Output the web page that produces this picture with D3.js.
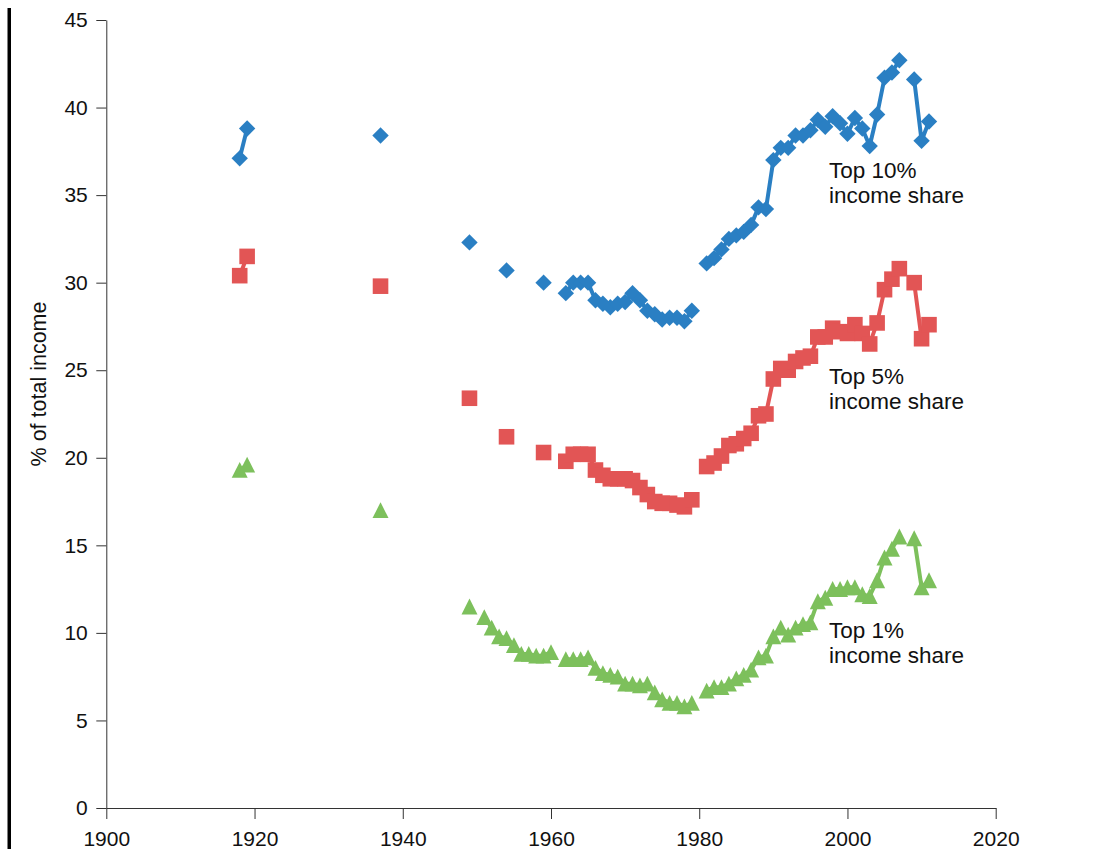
<!DOCTYPE html>
<html>
<head>
<meta charset="utf-8">
<script src="https://cdn.jsdelivr.net/npm/d3@7"></script>
<style>
  html, body { margin: 0; padding: 0; background: #fff; }
  svg { display: block; font-family: "Liberation Sans", Arial, sans-serif; }
</style>
</head>
<body>
<div id="chart"></div>
<script>
// years that have at least one observation
const YEARS = [
  1918, 1919, 1937, 1949,
  1951, 1952, 1953, 1954, 1955, 1956, 1957, 1958, 1959, 1960,
  1962, 1963, 1964, 1965, 1966, 1967, 1968, 1969, 1970, 1971, 1972, 1973, 1974, 1975, 1976, 1977, 1978, 1979,
  1981, 1982, 1983, 1984, 1985, 1986, 1987, 1988, 1989, 1990, 1991, 1992, 1993, 1994, 1995, 1996, 1997, 1998, 1999,
  2000, 2001, 2002, 2003, 2004, 2005, 2006, 2007,
  2009, 2010, 2011
];

const TOP10 = [
  37.1, 38.8, 38.4, 32.3,
  null, null, null, 30.7, null, null, null, null, 30.0, null,
  29.4, 30.0, 30.0, 30.0, 29.0, 28.8, 28.6, 28.8, 28.9, 29.4, 29.0, 28.4, 28.2, 27.9, 28.0, 28.0, 27.8, 28.4,
  31.1, 31.4, 31.9, 32.5, 32.7, 32.9, 33.3, 34.3, 34.2, 37.0, 37.7, 37.7, 38.4, 38.4, 38.7, 39.3, 38.9, 39.5, 39.1,
  38.5, 39.4, 38.8, 37.8, 39.6, 41.7, 42.0, 42.7,
  41.6, 38.1, 39.2
];

const TOP5 = [
  30.4, 31.5, 29.8, 23.4,
  null, null, null, 21.2, null, null, null, null, 20.3, null,
  19.8, 20.2, 20.2, 20.2, 19.3, 19.0, 18.8, 18.8, 18.8, 18.7, 18.3, 17.9, 17.5, 17.4, 17.4, 17.3, 17.2, 17.6,
  19.5, 19.7, 20.1, 20.7, 20.8, 21.1, 21.4, 22.4, 22.5, 24.5, 25.1, 25.0, 25.5, 25.7, 25.8, 26.9, 26.9, 27.4, 27.2,
  27.1, 27.6, 27.1, 26.5, 27.7, 29.6, 30.2, 30.8,
  30.0, 26.8, 27.6
];

const TOP1 = [
  19.3, 19.6, 17.0, 11.5,
  10.9, 10.3, 9.8, 9.7, 9.3, 8.8, 8.8, 8.7, 8.7, 8.9,
  8.5, 8.5, 8.5, 8.6, 8.0, 7.7, 7.6, 7.5, 7.1, 7.1, 7.0, 7.1, 6.6, 6.2, 6.0, 6.0, 5.8, 6.0,
  6.7, 6.9, 6.9, 7.1, 7.4, 7.6, 7.9, 8.6, 8.7, 9.8, 10.3, 9.9, 10.3, 10.5, 10.6, 11.8, 12.0, 12.5, 12.5,
  12.6, 12.6, 12.2, 12.1, 13.0, 14.3, 14.8, 15.5,
  15.4, 12.6, 13.0
];

const X_TICKS = [1900, 1920, 1940, 1960, 1980, 2000, 2020];
const Y_TICKS = [0, 5, 10, 15, 20, 25, 30, 35, 40, 45];

const SERIES = [
  { name: 'top10', values: TOP10, color: '#2a7fc3', shape: 'diamond',  label: ['Top 10%', 'income share'], labelAt: [1997.5, 36.0] },
  { name: 'top5',  values: TOP5,  color: '#e25555', shape: 'square',   label: ['Top 5%', 'income share'],  labelAt: [1997.5, 24.2] },
  { name: 'top1',  values: TOP1,  color: '#7dc05c', shape: 'triangle', label: ['Top 1%', 'income share'],  labelAt: [1997.5, 9.7] },
];

const W = 1093, H = 849;

const svg = d3.select('#chart').append('svg')
  .attr('width', W).attr('height', H);

const x = d3.scaleLinear().domain([1900, 2020]).range([106.3, 995.7]);
const y = d3.scaleLinear().domain([0, 45]).range([808, 20]);

// black rule on the far left
svg.append('rect')
  .attr('x', 7.5).attr('y', 8)
  .attr('width', 3.5).attr('height', H - 8)
  .attr('fill', '#000');

// axes
const xAxis = svg.append('g')
  .attr('transform', `translate(0,${y(0)})`)
  .call(d3.axisBottom(x).tickValues(X_TICKS).tickFormat(d3.format('d'))
    .tickSize(11).tickSizeOuter(0).tickPadding(12));

const yAxis = svg.append('g')
  .attr('transform', `translate(${x(1900)},0)`)
  .call(d3.axisLeft(y).tickValues(Y_TICKS).tickSize(10).tickSizeOuter(0).tickPadding(8.5));

[xAxis, yAxis].forEach(a => {
  a.selectAll('path, line').attr('stroke', '#333').attr('stroke-width', 1);
  a.selectAll('text').attr('font-size', '21px').attr('fill', '#111')
    .attr('font-family', '"Liberation Sans", Arial, sans-serif');
});

svg.append('text')
  .attr('transform', 'rotate(-90)')
  .attr('x', -384).attr('y', 46)
  .attr('text-anchor', 'middle')
  .attr('font-size', '21.5px')
  .attr('fill', '#111')
  .text('% of total income');

// split a series into runs of consecutive years with values
function runs(values) {
  const out = [];
  let cur = [];
  YEARS.forEach((yr, i) => {
    const v = values[i];
    if (v == null) { if (cur.length) out.push(cur); cur = []; return; }
    if (cur.length && yr - cur[cur.length - 1].year !== 1) { out.push(cur); cur = []; }
    cur.push({ year: yr, value: v });
  });
  if (cur.length) out.push(cur);
  return out;
}

const SHAPES = {
  diamond: 'M0,-8.2L8.2,0L0,8.2L-8.2,0Z',
  square: 'M-7.8,-7.8H7.8V7.8H-7.8Z',
  triangle: 'M0,-8L8,7.8L-8,7.8Z',
};

const line = d3.line()
  .x(d => x(d.year))
  .y(d => y(d.value));

SERIES.forEach(s => {
  const g = svg.append('g').attr('class', s.name);
  const segs = runs(s.values);

  g.selectAll('path.line')
    .data(segs.filter(r => r.length > 1))
    .join('path')
    .attr('class', 'line')
    .attr('fill', 'none')
    .attr('stroke', s.color)
    .attr('stroke-width', 4)
    .attr('stroke-linejoin', 'round')
    .attr('d', line);

  g.selectAll('path.mark')
    .data(segs.flat())
    .join('path')
    .attr('class', 'mark')
    .attr('transform', d => `translate(${x(d.year)},${y(d.value)})`)
    .attr('d', SHAPES[s.shape])
    .attr('fill', s.color);

  const t = svg.append('text')
    .attr('x', x(s.labelAt[0])).attr('y', y(s.labelAt[1]))
    .attr('font-size', '22.5px')
    .attr('fill', '#111');
  s.label.forEach((ln, i) => {
    t.append('tspan')
      .attr('x', x(s.labelAt[0]))
      .attr('dy', i === 0 ? 0 : 25)
      .text(ln);
  });
});
</script>
</body>
</html>
